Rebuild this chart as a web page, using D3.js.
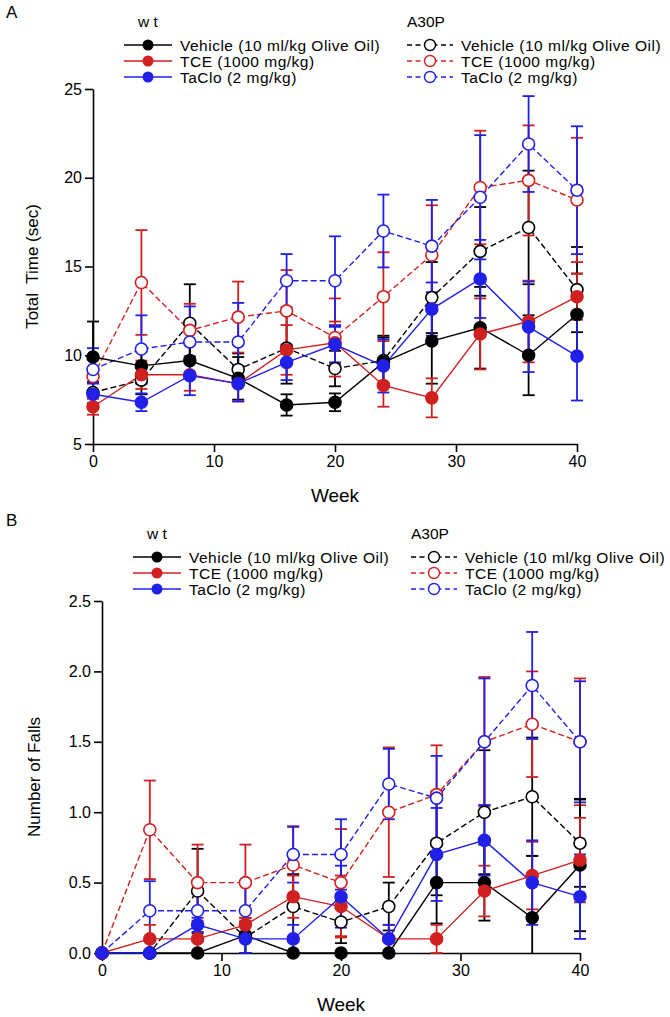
<!DOCTYPE html>
<html><head><meta charset="utf-8">
<script src="https://cdn.jsdelivr.net/npm/d3@7"></script>
<style>
body{margin:0;background:#fff;}
svg text{font-family:"Liberation Sans",Arial,sans-serif;fill:#000;}
</style></head>
<body><svg id="c" width="670" height="1017"></svg>
<script>
const weeks = [0,4,8,12,16,20,24,28,32,36,40];
const seriesNames = ["Vehicle (10 ml/kg Olive Oil)","TCE (1000 mg/kg)","TaClo (2 mg/kg)"];
const groupNames = ["w t","A30P"];

// Panel A: Total Time (sec)
const aWtVehicle    = [9.9, 9.4, 9.7, 8.7, 7.2, 7.35, 9.6, 10.8, 11.55, 10.0, 12.3];
const aWtVehicleErr = [2.0, 1.0, 1.0, 1.2, 0.6, 0.5, 1.4, 2.4, 2.3, 2.25, 2.3];
const aWtTCE        = [7.1, 8.9, 8.9, 8.4, 10.3, 10.7, 8.3, 7.6, 11.2, 11.9, 13.3];
const aWtTCEErr     = [0.45, 0.8, 0.9, 1.0, 1.4, 1.2, 1.2, 1.1, 2.0, 2.3, 1.3];
const aWtTaClo      = [7.8, 7.35, 8.85, 8.4, 9.6, 10.6, 9.4, 12.6, 14.3, 11.6, 9.95];
const aWtTaCloErr   = [0.6, 0.5, 1.1, 1.0, 1.0, 1.0, 1.5, 1.5, 2.2, 2.55, 2.5];
const aA30Vehicle    = [7.9, 8.6, 11.8, 9.2, 10.4, 9.25, 9.7, 13.25, 15.85, 17.2, 13.7];
const aA30VehicleErr = [0.6, 0.8, 2.2, 0.9, 2.0, 1.0, 1.4, 2.0, 2.5, 3.2, 2.4];
const aA30TCE        = [8.8, 14.1, 11.4, 12.15, 12.5, 11.0, 13.3, 15.65, 19.45, 19.85, 18.75];
const aA30TCEErr     = [1.0, 2.95, 1.5, 2.0, 2.3, 2.2, 2.5, 2.8, 3.2, 3.1, 3.5];
const aA30TaClo      = [9.2, 10.35, 10.75, 10.75, 14.2, 14.2, 17.0, 16.15, 18.9, 21.9, 19.3];
const aA30TaCloErr   = [1.2, 1.9, 2.0, 2.2, 1.5, 2.5, 2.05, 2.6, 3.5, 2.7, 3.6];
const aYTicks = [5,10,15,20,25];

// Panel B: Number of Falls
const bWtVehicle    = [0, 0, 0, 0.125, 0, 0, 0, 0.5, 0.5, 0.25, 0.625];
const bWtVehicleErr = [0, 0, 0, 0.125, 0, 0, 0, 0.29, 0.27, 0.44, 0.47];
const bWtTCE        = [0, 0.1, 0.1, 0.2, 0.4, 0.33, 0.1, 0.1, 0.44, 0.55, 0.66];
const bWtTCEErr     = [0, 0.1, 0.1, 0.05, 0.15, 0.22, 0.1, 0.1, 0.18, 0.24, 0.3];
const bWtTaClo      = [0, 0, 0.2, 0.1, 0.1, 0.4, 0.1, 0.7, 0.8, 0.5, 0.4];
const bWtTaCloErr   = [0, 0, 0.05, 0.1, 0.1, 0.22, 0.1, 0.33, 0.25, 0.3, 0.3];
const bA30Vehicle    = [0, 0, 0.44, 0.11, 0.33, 0.22, 0.33, 0.78, 1.0, 1.11, 0.78];
const bA30VehicleErr = [0, 0, 0.3, 0.11, 0.23, 0.15, 0.17, 0.37, 0.44, 0.42, 0.31];
const bA30TCE        = [0, 0.875, 0.5, 0.5, 0.625, 0.5, 1.0, 1.125, 1.5, 1.625, 1.5];
const bA30TCEErr     = [0, 0.35, 0.27, 0.27, 0.27, 0.38, 0.46, 0.35, 0.46, 0.375, 0.45];
const bA30TaClo      = [0, 0.3, 0.3, 0.3, 0.7, 0.7, 1.2, 1.1, 1.5, 1.9, 1.5];
const bA30TaCloErr   = [0, 0.21, 0.2, 0.2, 0.2, 0.25, 0.25, 0.3, 0.45, 0.38, 0.43];
const bYTicks = [0,0.5,1.0,1.5,2.0,2.5];

const xTicks = [0,10,20,30,40];
const colors = ["#000000","#d02020","#2020e8"];

const svg = d3.select("#c");

function panel(cfg){
  const g = svg.append("g");
  const x = d3.scaleLinear().domain([0,40]).range([cfg.x0,cfg.x1]);
  const y = d3.scaleLinear().domain(cfg.yDomain).range([cfg.y0,cfg.y1]);
  const xa = g.append("g").attr("transform",`translate(0,${cfg.y0})`)
    .call(d3.axisBottom(x).tickValues(xTicks).tickSize(8).tickPadding(4).tickSizeOuter(0));
  const ya = g.append("g").attr("transform",`translate(${cfg.x0},0)`)
    .call(d3.axisLeft(y).tickValues(cfg.yTicks).tickSize(8).tickPadding(3).tickSizeOuter(0).tickFormat(cfg.fmt));
  [xa,ya].forEach(a=>{
    a.selectAll("path").attr("stroke","#000").attr("stroke-width",1.6);
    a.selectAll("line").attr("stroke","#000").attr("stroke-width",1.6);
    a.selectAll("text").attr("font-size",16).attr("font-family","Liberation Sans, Arial, sans-serif");
  });
  g.append("text").attr("x",(cfg.x0+cfg.x1)/2).attr("y",cfg.y0+58).attr("text-anchor","middle")
    .attr("font-size",19).text("Week");
  g.append("text").attr("transform",`translate(${cfg.ylabX},${(cfg.y0+cfg.y1)/2}) rotate(-90)`)
    .attr("text-anchor","middle").attr("font-size",17).attr("xml:space","preserve").text(cfg.ylab);
  g.append("text").attr("x",6).attr("y",cfg.letterY).attr("font-size",17).text(cfg.letter);

  const line = d3.line().x((d,i)=>x(weeks[i])).y(d=>y(d));
  const capW = 6;
  const order = [
    {v:cfg.data[3],e:cfg.err[3],c:0,open:true},
    {v:cfg.data[4],e:cfg.err[4],c:1,open:true},
    {v:cfg.data[5],e:cfg.err[5],c:2,open:true},
    {v:cfg.data[0],e:cfg.err[0],c:0,open:false},
    {v:cfg.data[1],e:cfg.err[1],c:1,open:false},
    {v:cfg.data[2],e:cfg.err[2],c:2,open:false}
  ];
  order.forEach(s=>{
    const col = colors[s.c];
    const eg = g.append("g").attr("stroke",col).attr("stroke-width",1.8);
    weeks.forEach((w,i)=>{
      if(s.e[i]<=0) return;
      const lo = Math.max(cfg.yDomain[0], s.v[i]-s.e[i]);
      const hi = s.v[i]+s.e[i];
      eg.append("line").attr("x1",x(w)).attr("x2",x(w)).attr("y1",y(lo)).attr("y2",y(hi));
      eg.append("line").attr("x1",x(w)-capW).attr("x2",x(w)+capW).attr("y1",y(hi)).attr("y2",y(hi));
      if(s.v[i]-s.e[i] >= cfg.yDomain[0])
        eg.append("line").attr("x1",x(w)-capW).attr("x2",x(w)+capW).attr("y1",y(lo)).attr("y2",y(lo));
    });
  });
  order.forEach(s=>{
    const col = colors[s.c];
    g.append("path").datum(s.v).attr("d",line).attr("fill","none").attr("stroke",col)
      .attr("stroke-width",1.4).attr("stroke-dasharray",s.open?"6,3":null);
  });
  order.forEach(s=>{
    const col = colors[s.c];
    g.append("g").selectAll("circle").data(s.v).join("circle")
      .attr("cx",(d,i)=>x(weeks[i])).attr("cy",d=>y(d)).attr("r",6)
      .attr("fill",s.open?"#fff":col).attr("stroke",col).attr("stroke-width",1.6);
  });

  const L = cfg.leg;
  g.append("text").attr("x",L.x+14).attr("y",L.y-12).attr("font-size",15.5).attr("xml:space","preserve").text(groupNames[0]);
  g.append("text").attr("x",L.x2).attr("y",L.y-12).attr("font-size",15.5).text(groupNames[1]);
  seriesNames.forEach((nm,i)=>{
    const yy = L.y + i*16 + 6;
    const col = colors[i];
    g.append("line").attr("x1",L.x).attr("x2",L.x+48).attr("y1",yy).attr("y2",yy).attr("stroke",col).attr("stroke-width",1.6);
    g.append("circle").attr("cx",L.x+24).attr("cy",yy).attr("r",5.5).attr("fill",col);
    g.append("text").attr("x",L.x+56).attr("y",yy+5.5).attr("font-size",15.5).attr("letter-spacing",0.5).text(nm);
    g.append("line").attr("x1",L.x2).attr("x2",L.x2+46).attr("y1",yy).attr("y2",yy).attr("stroke",col)
      .attr("stroke-width",1.4).attr("stroke-dasharray","5,3.5");
    g.append("circle").attr("cx",L.x2+23).attr("cy",yy).attr("r",5.5).attr("fill","#fff").attr("stroke",col).attr("stroke-width",1.4);
    g.append("text").attr("x",L.x2+54).attr("y",yy+5.5).attr("font-size",15.5).attr("letter-spacing",0.5).text(nm);
  });
}

panel({x0:93,x1:577,y0:444,y1:89,yDomain:[5,25],yTicks:aYTicks,fmt:d3.format("d"),
  ylab:"Total  Time (sec)",ylabX:38,letter:"A",letterY:18,
  data:[aWtVehicle,aWtTCE,aWtTaClo,aA30Vehicle,aA30TCE,aA30TaClo],
  err:[aWtVehicleErr,aWtTCEErr,aWtTaCloErr,aA30VehicleErr,aA30TCEErr,aA30TaCloErr],
  leg:{x:124,y:39,x2:407}});

panel({x0:102,x1:580,y0:953,y1:601,yDomain:[0,2.5],yTicks:bYTicks,fmt:d3.format(".1f"),
  ylab:"Number of Falls",ylabX:40,letter:"B",letterY:526,
  data:[bWtVehicle,bWtTCE,bWtTaClo,bA30Vehicle,bA30TCE,bA30TaClo],
  err:[bWtVehicleErr,bWtTCEErr,bWtTaCloErr,bA30VehicleErr,bA30TCEErr,bA30TaCloErr],
  leg:{x:133,y:551,x2:411}});
</script></body></html>
